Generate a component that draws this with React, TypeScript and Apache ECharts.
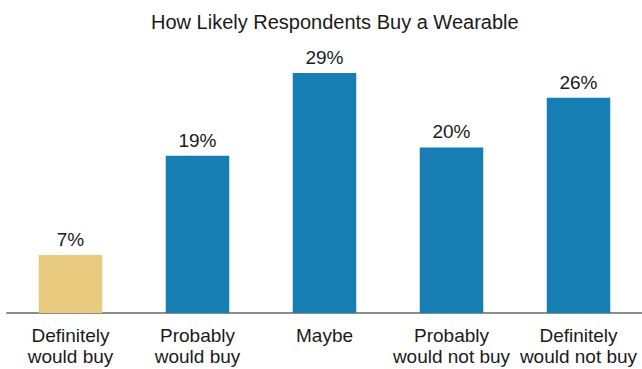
import React, { useEffect, useRef } from "react";
import * as echarts from "echarts";

const categories = ["Definitely\nwould buy", "Probably\nwould buy", "Maybe", "Probably\nwould not buy", "Definitely\nwould not buy"];
const values = [7, 19, 29, 20, 26];
const barColors = ["#E8CB7E", "#177EB4", "#177EB4", "#177EB4", "#177EB4"];
const titleText = "How Likely Respondents Buy a Wearable";

const FONT = "Liberation Sans, Arial, sans-serif";

export default function App() {
  const ref = useRef<HTMLDivElement>(null);
  useEffect(() => {
    document.body.style.margin = "0";
    const chart = echarts.init(ref.current!, null, { renderer: "svg" });
    chart.setOption({
      animation: false,
      backgroundColor: "#ffffff",
      title: {
        text: titleText,
        left: 146,
        top: 7,
        textStyle: { fontFamily: FONT, fontSize: 20, fontWeight: "normal", color: "#1a1a1a" },
      },
      grid: { left: 7, width: 640, top: 23.3, bottom: 56, containLabel: false },
      xAxis: {
        type: "category",
        data: categories,
        axisLine: { lineStyle: { color: "#8c8c8c", width: 2 } },
        axisTick: { show: false },
        axisLabel: {
          interval: 0,
          margin: 12,
          fontFamily: FONT,
          fontSize: 19,
          lineHeight: 21,
          color: "#1a1a1a",
        },
      },
      yAxis: { type: "value", min: 0, max: 35, show: false, splitLine: { show: false } },
      series: [
        {
          type: "bar",
          barWidth: "50%",
          data: values.map((v, i) => ({ value: v, itemStyle: { color: barColors[i] } })),
          label: {
            show: true,
            position: "top",
            distance: 6,
            formatter: "{c}%",
            fontFamily: FONT,
            fontSize: 19,
            color: "#1a1a1a",
          },
        },
      ],
    });
    return () => chart.dispose();
  }, []);
  return <div ref={ref} style={{ width: 642, height: 369 }} />;
}
